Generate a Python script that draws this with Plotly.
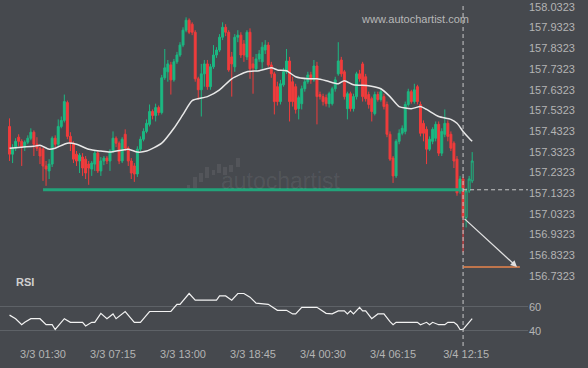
import plotly.graph_objects as go
import pandas as pd

# ---------------- data ----------------
candle_start = "2025-03-02 22:45"   # first 15-minute candle

opens = [157.455, 157.321, 157.350, 157.403, 157.383, 157.355, 157.379, 157.398, 157.427, 157.369,
         157.350, 157.345, 157.264, 157.240, 157.273, 157.398, 157.369, 157.455, 157.484, 157.570,
         157.407, 157.374, 157.321, 157.288, 157.307, 157.297, 157.273, 157.249, 157.273, 157.326,
         157.240, 157.288, 157.302, 157.288, 157.336, 157.398, 157.374, 157.288, 157.417, 157.350,
         157.288, 157.264, 157.225, 157.345, 157.393, 157.431, 157.465, 157.527, 157.508, 157.546,
         157.522, 157.690, 157.719, 157.752, 157.680, 157.767, 157.800, 157.848, 157.920, 157.968,
         157.949, 157.910, 157.685, 157.632, 157.709, 157.757, 157.647, 157.743, 157.800, 157.824,
         157.886, 157.934, 157.910, 157.791, 157.743, 157.886, 157.896, 157.853, 157.791, 157.910,
         157.757, 157.733, 157.781, 157.767, 157.824, 157.848, 157.752, 157.709, 157.647, 157.575,
         157.656, 157.719, 157.771, 157.671, 157.647, 157.541, 157.565, 157.637, 157.671, 157.704,
         157.680, 157.747, 157.609, 157.599, 157.594, 157.565, 157.565, 157.637, 157.709, 157.776,
         157.719, 157.541, 157.613, 157.541, 157.599, 157.709, 157.757, 157.695, 157.609, 157.589,
         157.517, 157.609, 157.585, 157.599, 157.561, 157.417, 157.302, 157.216, 157.383, 157.422,
         157.431, 157.561, 157.623, 157.575, 157.647, 157.561, 157.470, 157.441, 157.345, 157.383,
         157.398, 157.465, 157.326, 157.417, 157.470, 157.417, 157.374, 157.297, 157.144, 157.201,
         157.015, 157.144, 157.192]
closes = [157.321, 157.350, 157.383, 157.383, 157.355, 157.379, 157.398, 157.427, 157.369, 157.350,
          157.312, 157.264, 157.249, 157.273, 157.398, 157.369, 157.455, 157.484, 157.575, 157.407,
          157.374, 157.297, 157.288, 157.316, 157.254, 157.230, 157.254, 157.278, 157.326, 157.240,
          157.288, 157.302, 157.288, 157.336, 157.398, 157.374, 157.288, 157.393, 157.350, 157.288,
          157.230, 157.225, 157.345, 157.393, 157.431, 157.470, 157.527, 157.508, 157.546, 157.522,
          157.690, 157.738, 157.757, 157.680, 157.767, 157.800, 157.848, 157.920, 157.968, 157.910,
          157.910, 157.685, 157.632, 157.709, 157.757, 157.647, 157.743, 157.800, 157.824, 157.886,
          157.934, 157.910, 157.728, 157.757, 157.886, 157.896, 157.800, 157.800, 157.910, 157.733,
          157.738, 157.781, 157.805, 157.838, 157.848, 157.752, 157.709, 157.575, 157.575, 157.661,
          157.719, 157.771, 157.575, 157.575, 157.537, 157.594, 157.637, 157.671, 157.704, 157.680,
          157.747, 157.599, 157.599, 157.575, 157.565, 157.613, 157.637, 157.680, 157.771, 157.709,
          157.599, 157.613, 157.541, 157.599, 157.709, 157.685, 157.599, 157.589, 157.561, 157.527,
          157.609, 157.585, 157.623, 157.551, 157.417, 157.297, 157.216, 157.383, 157.422, 157.446,
          157.561, 157.623, 157.575, 157.632, 157.575, 157.422, 157.422, 157.345, 157.393, 157.441,
          157.465, 157.326, 157.431, 157.470, 157.407, 157.350, 157.288, 157.134, 157.201, 157.015,
          157.144, 157.201, 157.288]
highs = [157.494, 157.369, 157.398, 157.417, 157.393, 157.388, 157.412, 157.446, 157.436, 157.403,
         157.359, 157.355, 157.288, 157.297, 157.407, 157.412, 157.489, 157.503, 157.609, 157.580,
         157.427, 157.383, 157.336, 157.326, 157.326, 157.312, 157.288, 157.288, 157.336, 157.336,
         157.307, 157.312, 157.312, 157.345, 157.431, 157.407, 157.383, 157.403, 157.441, 157.359,
         157.302, 157.278, 157.359, 157.407, 157.446, 157.489, 157.561, 157.537, 157.565, 157.556,
         157.704, 157.829, 157.776, 157.767, 157.781, 157.815, 157.862, 157.934, 157.982, 157.977,
         157.958, 157.920, 157.695, 157.757, 157.776, 157.776, 157.757, 157.848, 157.838, 157.901,
         157.958, 157.949, 157.920, 157.815, 157.901, 157.920, 157.910, 157.872, 157.920, 157.929,
         157.791, 157.805, 157.824, 157.862, 157.872, 157.862, 157.767, 157.719, 157.671, 157.680,
         157.738, 157.829, 157.791, 157.695, 157.661, 157.604, 157.652, 157.685, 157.719, 157.719,
         157.776, 157.767, 157.623, 157.613, 157.609, 157.623, 157.647, 157.695, 157.862, 157.791,
         157.728, 157.623, 157.623, 157.613, 157.719, 157.728, 157.767, 157.709, 157.623, 157.599,
         157.623, 157.623, 157.637, 157.613, 157.575, 157.431, 157.312, 157.393, 157.441, 157.460,
         157.575, 157.637, 157.632, 157.661, 157.656, 157.575, 157.484, 157.455, 157.407, 157.451,
         157.479, 157.479, 157.446, 157.537, 157.484, 157.431, 157.383, 157.312, 157.216, 157.211,
         157.158, 157.216, 157.331]
lows = [157.288, 157.278, 157.336, 157.359, 157.264, 157.336, 157.369, 157.388, 157.312, 157.336,
        157.273, 157.192, 157.168, 157.201, 157.259, 157.355, 157.355, 157.446, 157.474, 157.393,
        157.336, 157.278, 157.264, 157.230, 157.216, 157.201, 157.173, 157.216, 157.240, 157.230,
        157.216, 157.268, 157.273, 157.240, 157.326, 157.355, 157.273, 157.278, 157.336, 157.264,
        157.201, 157.187, 157.211, 157.336, 157.383, 157.422, 157.455, 157.489, 157.479, 157.508,
        157.513, 157.680, 157.671, 157.609, 157.671, 157.757, 157.791, 157.838, 157.910, 157.901,
        157.896, 157.671, 157.585, 157.503, 157.647, 157.632, 157.632, 157.733, 157.786, 157.815,
        157.872, 157.891, 157.719, 157.599, 157.719, 157.862, 157.786, 157.767, 157.776, 157.685,
        157.613, 157.719, 157.767, 157.733, 157.805, 157.743, 157.690, 157.513, 157.556, 157.561,
        157.647, 157.709, 157.479, 157.551, 157.517, 157.489, 157.537, 157.623, 157.661, 157.661,
        157.671, 157.465, 157.585, 157.556, 157.551, 157.546, 157.556, 157.623, 157.700, 157.695,
        157.585, 157.489, 157.527, 157.527, 157.585, 157.671, 157.575, 157.575, 157.541, 157.479,
        157.508, 157.575, 157.575, 157.537, 157.403, 157.288, 157.182, 157.206, 157.369, 157.412,
        157.417, 157.551, 157.565, 157.565, 157.561, 157.407, 157.383, 157.273, 157.336, 157.369,
        157.383, 157.312, 157.312, 157.403, 157.383, 157.336, 157.254, 157.120, 157.130, 156.847,
        156.967, 157.134, 157.182]

# moving average (candle index, value)
ma_idx = [0, 4, 8, 10, 13, 15, 19, 22, 26, 30, 33, 39, 42, 45, 50, 54, 57, 60, 65, 69, 73, 78, 82,
          86, 88, 91, 94, 98, 101, 104, 108, 110, 113, 118, 122, 125, 128, 132, 135, 137, 141, 145,
          147, 149, 151, 152]
ma_vals = [157.350, 157.355, 157.359, 157.364, 157.345, 157.350, 157.374, 157.369, 157.345, 157.336,
           157.331, 157.345, 157.331, 157.336, 157.374, 157.446, 157.513, 157.580, 157.599, 157.632,
           157.685, 157.719, 157.724, 157.738, 157.728, 157.724, 157.695, 157.685, 157.685, 157.676,
           157.661, 157.676, 157.656, 157.652, 157.637, 157.599, 157.551, 157.541, 157.551, 157.537,
           157.503, 157.489, 157.470, 157.431, 157.398, 157.383]

# RSI (candle index, value)
rsi_idx = [0, 2, 4, 5, 7, 10, 12, 14, 15, 18, 20, 24, 25, 27, 28, 30, 32, 34, 35, 38, 41, 43, 46,
           53, 55, 56, 59, 61, 68, 69, 71, 73, 75, 77, 79, 81, 85, 88, 91, 93, 94, 96, 101, 104,
           106, 108, 110, 111, 112, 113, 115, 116, 117, 119, 121, 123, 125, 126, 127, 134, 135,
           137, 138, 139, 141, 143, 144, 146, 147, 148, 149, 152]
rsi_vals = [53, 50, 45, 47, 50, 50, 45, 45, 41, 50, 47, 47, 44, 47, 47, 54.5, 50, 54, 50, 56, 47, 47,
            56, 56, 62, 62, 71, 65.5, 65.5, 69, 69, 65.5, 71, 71, 68, 63, 62, 57, 57, 54, 54, 59.5,
            59.5, 54.5, 54, 56.5, 56.5, 54, 56.5, 54, 59.5, 56.5, 56.5, 50, 54, 54, 47.5, 45, 47,
            47, 45, 47, 45, 47, 45, 45, 47, 47, 45, 41, 41, 50]

price_ticks = [156.7323, 156.8323, 156.9323, 157.0323, 157.1323, 157.2323, 157.3323,
               157.4323, 157.5323, 157.6323, 157.7323, 157.8323, 157.9323, 158.0323]
rsi_ticks = [40, 60]
time_ticks = ["2025-03-03 01:30", "2025-03-03 07:15", "2025-03-03 13:00", "2025-03-03 18:45",
              "2025-03-04 00:30", "2025-03-04 06:15", "2025-03-04 12:15"]
time_tick_labels = ["3/3 01:30", "3/3 07:15", "3/3 13:00", "3/3 18:45",
                    "3/4 00:30", "3/4 06:15", "3/4 12:15"]

support_level = 157.149
support_start = "2025-03-03 01:30"
breakout_index = 149           # candle where the pattern completes
target_level = 156.776
target_time = "2025-03-04 16:26"
target_line_end = "2025-03-04 16:40"
x_range = ["2025-03-02 21:58", "2025-03-04 17:20"]

# ---------------- figure ----------------
times = pd.date_range(candle_start, periods=len(closes), freq="15min")
BG = "#46494e"
GREEN = "#1cb882"
RED = "#f03c3c"

fig = go.Figure()
n_solid = breakout_index + 1
fig.add_trace(go.Candlestick(
    x=times[:n_solid], open=opens[:n_solid], high=highs[:n_solid], low=lows[:n_solid], close=closes[:n_solid],
    increasing=dict(line=dict(color=GREEN, width=1), fillcolor=GREEN),
    decreasing=dict(line=dict(color=RED, width=1), fillcolor=RED),
    whiskerwidth=0, xaxis="x", yaxis="y", hoverinfo="skip"))
fig.add_trace(go.Candlestick(
    x=times[n_solid:], open=opens[n_solid:], high=highs[n_solid:], low=lows[n_solid:], close=closes[n_solid:],
    increasing=dict(line=dict(color=GREEN, width=1), fillcolor=BG),
    decreasing=dict(line=dict(color=RED, width=1), fillcolor=BG),
    whiskerwidth=0, xaxis="x", yaxis="y", hoverinfo="skip"))

fig.add_trace(go.Scatter(x=[times[i] for i in ma_idx], y=ma_vals, mode="lines",
                         line=dict(color="#e8e8e8", width=1.5, shape="spline", smoothing=0.6),
                         xaxis="x", yaxis="y", hoverinfo="skip"))
fig.add_trace(go.Scatter(x=[times[i] for i in rsi_idx], y=rsi_vals, mode="lines",
                         line=dict(color="#f2f2f2", width=1.2),
                         xaxis="x2", yaxis="y2", hoverinfo="skip"))

t_break = times[breakout_index]
# support line
fig.add_shape(type="line", xref="x", yref="y", x0=support_start, x1=t_break,
              y0=support_level, y1=support_level, line=dict(color="#22a37a", width=3))
# dashed continuation
fig.add_shape(type="line", xref="x", yref="y", x0=t_break, x1=x_range[1],
              y0=support_level, y1=support_level, line=dict(color="#c8c8c8", width=1, dash="4px,3px"))
# vertical dashed "now" line
fig.add_shape(type="line", xref="x", yref="paper", x0=t_break, x1=t_break,
              y0=0.0, y1=0.99, line=dict(color="#c8c8c8", width=1, dash="4px,3px"))
# target level
fig.add_shape(type="line", xref="x", yref="y", x0=t_break, x1=target_line_end,
              y0=target_level, y1=target_level, line=dict(color="#e8844c", width=1.5))
# forecast arrow
fig.add_annotation(x=target_time, y=target_level, ax=t_break, ay=closes[breakout_index],
                   xref="x", yref="y", axref="x", ayref="y", text="", showarrow=True,
                   arrowhead=2, arrowsize=1, arrowwidth=1.3, arrowcolor="#e0e0e0")

# watermark
PLOT_W, PLOT_H = 528.0, 346.0
for (x0, y0, x1, y1) in [(187, 185, 190, 188), (193, 177, 197, 188), (199, 173, 203, 182),
                         (205, 167, 209, 178), (212, 170, 215, 175), (217, 164, 221, 173),
                         (223, 167, 227, 175), (229, 165, 233, 172), (236, 158, 240, 167)]:
    fig.add_shape(type="rect", xref="paper", yref="paper", x0=x0 / PLOT_W, x1=x1 / PLOT_W,
                  y0=1 - y1 / PLOT_H, y1=1 - y0 / PLOT_H, line=dict(width=0),
                  fillcolor="rgba(255,255,255,0.07)", layer="below")
fig.add_annotation(x=281 / PLOT_W, y=1 - 181 / PLOT_H, xref="paper", yref="paper",
                   text="autochartist", showarrow=False,
                   font=dict(family="Liberation Sans, Arial", size=23, color="rgba(255,255,255,0.08)"))
fig.add_annotation(x=471 / PLOT_W, y=1 - 11 / PLOT_H, xref="paper", yref="paper",
                   text="www.autochartist.com", showarrow=False,
                   font=dict(family="Liberation Sans, Arial", size=11, color="#b8b8b8"))
fig.add_annotation(x=14 / PLOT_W, y=1 - 290 / PLOT_H, xref="paper", yref="paper", xanchor="left",
                   text="<b>RSI</b>", showarrow=False,
                   font=dict(family="Liberation Sans, Arial", size=11, color="#d0d0d0"))

tickfont = dict(family="Liberation Sans, Arial", size=11, color="#b4b4b4")
split = 1 - 285 / PLOT_H
fig.update_layout(
    width=588, height=368, margin=dict(l=0, r=60, t=0, b=22, autoexpand=False),
    paper_bgcolor=BG, plot_bgcolor=BG, showlegend=False, boxgap=0.1,
    xaxis=dict(type="date", range=x_range, domain=[0, 1], anchor="y", showticklabels=False,
               showgrid=False, zeroline=False, showline=False, rangeslider=dict(visible=False),
               automargin=False),
    xaxis2=dict(type="date", range=x_range, domain=[0, 1], anchor="y2", matches="x",
                tickvals=time_ticks, ticktext=time_tick_labels, tickfont=tickfont,
                showgrid=False, zeroline=False, showline=False, ticks="", automargin=False),
    yaxis=dict(domain=[split, 1], range=[156.6889, 158.0658], side="right",
               tickvals=price_ticks, ticktext=[f"{v:.4f}" for v in price_ticks],
               tickfont=tickfont, showgrid=False, zeroline=False, ticks="", automargin=False,
               ticklabeloverflow="allow"),
    yaxis2=dict(domain=[0, split], range=[27.25, 78.1], side="right", tickvals=rsi_ticks,
                tickfont=tickfont, showgrid=True, gridcolor="#5e6267", gridwidth=1,
                zeroline=False, ticks="", automargin=False),
)

fig.write_html("out.html", config={"displayModeBar": False},
               post_script="document.body.style.margin='0px';document.body.style.background='" + BG + "';")
